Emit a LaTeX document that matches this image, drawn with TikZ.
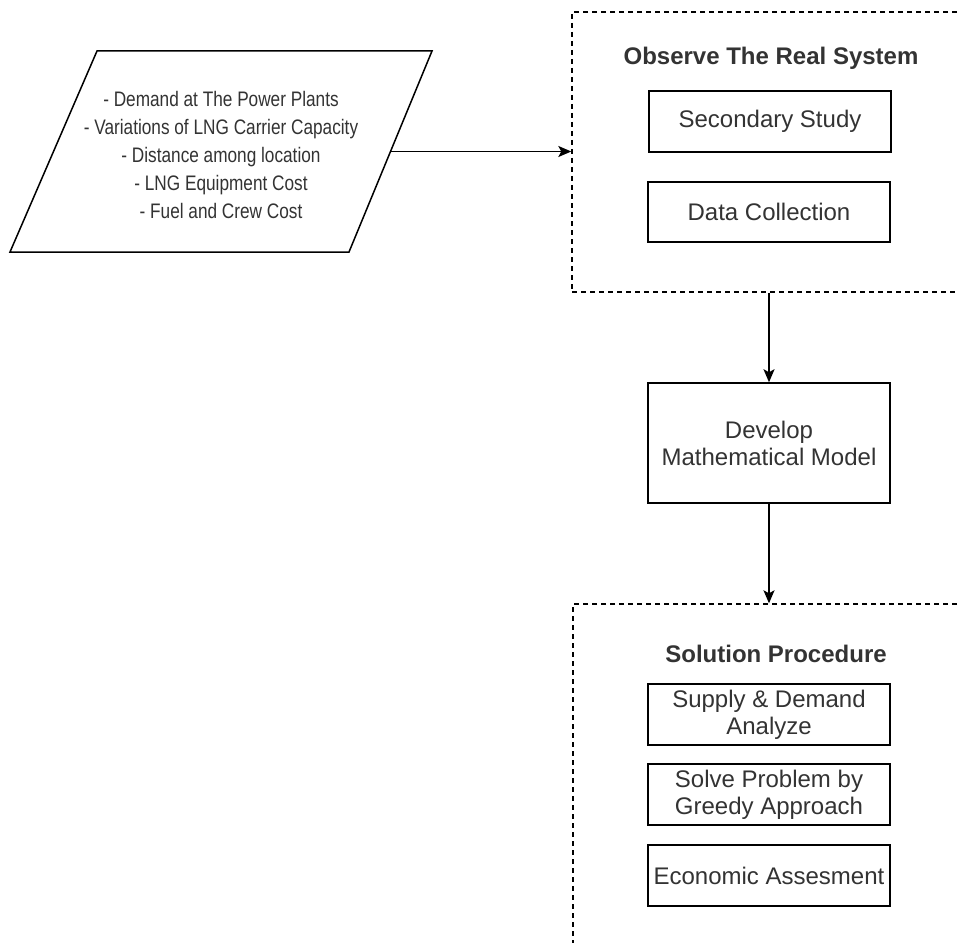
\documentclass[tikz,border=0pt]{standalone}
\usepackage{fontspec}
\setmainfont{Liberation Sans}
\newfontfamily\narrowfont[FakeStretch=0.82]{Liberation Sans}
\usetikzlibrary{arrows.meta}
\definecolor{txt}{HTML}{333333}
\tikzset{
  boxstyle/.style={draw=black, line width=1.5pt, rectangle, minimum width=242pt, inner sep=0pt,
    text=txt, align=center, font=\fontsize{24}{27}\selectfont},
  groupstyle/.style={draw=black, line width=1.4pt, dash pattern=on 5pt off 4pt, rectangle, inner sep=0pt},
  titlestyle/.style={text=txt, font=\fontsize{24}{28}\selectfont\bfseries, inner sep=0pt},
  arr/.style={draw=black, line width=1.6pt, -{Stealth[length=13pt,width=11pt,inset=3pt]}},
  inputshape/.style={draw=black, line width=1.5pt, line join=miter},
  inputtext/.style={text=txt, align=center, font=\narrowfont\fontsize{21}{28}\selectfont, inner sep=0pt}
}
\begin{document}
\begin{tikzpicture}[x=1pt, y=-1pt]
\clip (0,0) rectangle (958,942);
\fill[white] (0,0) rectangle (958,942);

% input parallelogram
\coordinate (pTL) at (97,51);
\coordinate (pTR) at (432,51);
\coordinate (pBR) at (349,252);
\coordinate (pBL) at (10,252);
\draw[inputshape] (pTL) -- (pTR) -- (pBR) -- (pBL) -- cycle;
\coordinate (inpE) at (390.5,151.5);
\node[inputtext] (inptext) at (221,155) {- Demand at The Power Plants\\- Variations of LNG Carrier Capacity\\- Distance among location\\- LNG Equipment Cost\\- Fuel and Crew Cost};

% group 1
\node[groupstyle, minimum width=390pt, minimum height=280pt] (obs) at (767,152) {};
\node[titlestyle] (obstitle) at (771,58) {Observe The Real System};
\node[boxstyle, minimum height=61pt] (ss) at (770,121.5) {Secondary Study};
\node[boxstyle, minimum height=60pt] (dc) at (769,212) {Data Collection};

% develop
\node[boxstyle, minimum height=120pt] (dev) at (769,443) {Develop\\Mathematical Model};

% group 2
\node[groupstyle, minimum width=390pt, minimum height=360pt] (sol) at (768,784) {};
\node[titlestyle] (soltitle) at (776,654) {Solution Procedure};
\node[boxstyle, minimum height=61pt] (sup) at (769,714.5) {Supply \& Demand\\Analyze};
\node[boxstyle, minimum height=61pt] (slv) at (769,794.5) {Solve Problem by\\Greedy Approach};
\node[boxstyle, minimum height=61pt] (eco) at (769,875.5) {Economic Assesment};

% connectors
\draw[arr] (inpE) -- (inpE -| obs.west);
\draw[arr] (obs.south -| dev.north) -- (dev.north);
\draw[arr] (dev.south) -- (dev.south |- sol.north);
\end{tikzpicture}
\end{document}
